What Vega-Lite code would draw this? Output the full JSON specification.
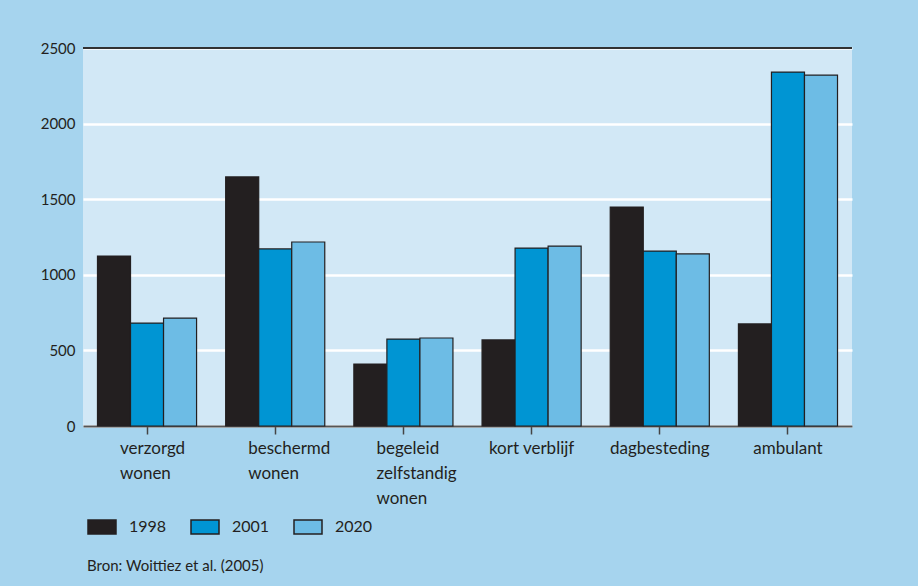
{
  "$schema": "https://vega.github.io/schema/vega-lite/v6.json",
  "width": 769,
  "height": 378,
  "autosize": "none",
  "padding": {"left": 83, "top": 48, "right": 66, "bottom": 160},
  "background": "#a6d4ee",
  "config": {
    "font": "Lato",
    "view": {"fill": "#d2e8f6", "stroke": null},
    "legend": {"orient": "none", "legendX": 4, "legendY": 464}
  },
  "title": {
    "text": "Bron: Woittiez et al. (2005)",
    "orient": "bottom",
    "anchor": "start",
    "frame": "group",
    "font": "Lato",
    "fontSize": 15,
    "fontWeight": "normal",
    "color": "#231f20",
    "offset": 22,
    "dx": 4
  },
  "data": {
    "values": [
      {"category": "verzorgd wonen", "year": "1998", "value": 1124},
      {"category": "verzorgd wonen", "year": "2001", "value": 681},
      {"category": "verzorgd wonen", "year": "2020", "value": 714},
      {"category": "beschermd wonen", "year": "1998", "value": 1647},
      {"category": "beschermd wonen", "year": "2001", "value": 1171},
      {"category": "beschermd wonen", "year": "2020", "value": 1217},
      {"category": "begeleid zelfstandig wonen", "year": "1998", "value": 410},
      {"category": "begeleid zelfstandig wonen", "year": "2001", "value": 575},
      {"category": "begeleid zelfstandig wonen", "year": "2020", "value": 582},
      {"category": "kort verblijf", "year": "1998", "value": 569},
      {"category": "kort verblijf", "year": "2001", "value": 1177},
      {"category": "kort verblijf", "year": "2020", "value": 1190},
      {"category": "dagbesteding", "year": "1998", "value": 1448},
      {"category": "dagbesteding", "year": "2001", "value": 1157},
      {"category": "dagbesteding", "year": "2020", "value": 1138},
      {"category": "ambulant", "year": "1998", "value": 675},
      {"category": "ambulant", "year": "2001", "value": 2341},
      {"category": "ambulant", "year": "2020", "value": 2321}
    ]
  },
  "layer": [
    {
      "mark": {"type": "bar", "stroke": "#231f20", "strokeWidth": 1.2},
      "encoding": {
        "x": {
          "field": "category",
          "type": "nominal",
          "sort": null,
          "scale": {"paddingInner": 0.227, "paddingOuter": 0.113},
          "axis": {
            "title": null,
            "labelAngle": 0,
            "labelFont": "Lato",
            "labelFontSize": 17,
            "labelColor": "#231f20",
            "labelLineHeight": 25,
            "labelBaseline": "top",
            "labelPadding": 6,
            "labelExpr": "datum.value == 'kort verblijf' ? datum.value : split(datum.value, ' ')",
            "labelAlign": {"condition": {"test": "indexof(['verzorgd wonen','beschermd wonen','begeleid zelfstandig wonen'], datum.value) >= 0", "value": "left"}, "value": "center"},
            "labelOffset": {"condition": {"test": "indexof(['verzorgd wonen','beschermd wonen','begeleid zelfstandig wonen'], datum.value) >= 0", "value": -27}, "value": 0},
            "labelLimit": 300,
            "domainColor": "#555555",
            "domainWidth": 2,
            "tickColor": "#444444",
            "tickSize": 8,
            "tickWidth": 1.5
          }
        },
        "xOffset": {"field": "year", "type": "nominal", "scale": {"paddingInner": 0, "paddingOuter": 0}},
        "y": {
          "field": "value",
          "type": "quantitative",
          "scale": {"domain": [0, 2500], "nice": false},
          "axis": {
            "title": null,
            "values": [0, 500, 1000, 1500, 2000, 2500],
            "format": "d",
            "grid": true,
            "gridColor": "#ffffff",
            "gridWidth": 2.5,
            "gridOpacity": 1,
            "domain": false,
            "ticks": false,
            "labelPadding": 8,
            "labelFont": "Lato",
            "labelFontSize": 15,
            "labelColor": "#231f20"
          }
        },
        "color": {
          "field": "year",
          "type": "nominal",
          "scale": {"domain": ["1998", "2001", "2020"], "range": ["#231f20", "#0095d3", "#6dbce5"]},
          "legend": {
            "title": null,
            "direction": "horizontal",
            "symbolType": "M-1,-0.5L1,-0.5L1,0.5L-1,0.5Z",
            "symbolSize": 784,
            "symbolStrokeColor": "#231f20",
            "symbolStrokeWidth": 1.5,
            "symbolOpacity": 1,
            "labelFont": "Lato",
            "labelFontSize": 16,
            "labelColor": "#231f20",
            "labelOffset": 12,
            "columnPadding": 21
          }
        }
      }
    },
    {
      "mark": {"type": "rule", "color": "#333333", "strokeWidth": 1.5},
      "encoding": {"y": {"datum": 2500}}
    }
  ]
}
